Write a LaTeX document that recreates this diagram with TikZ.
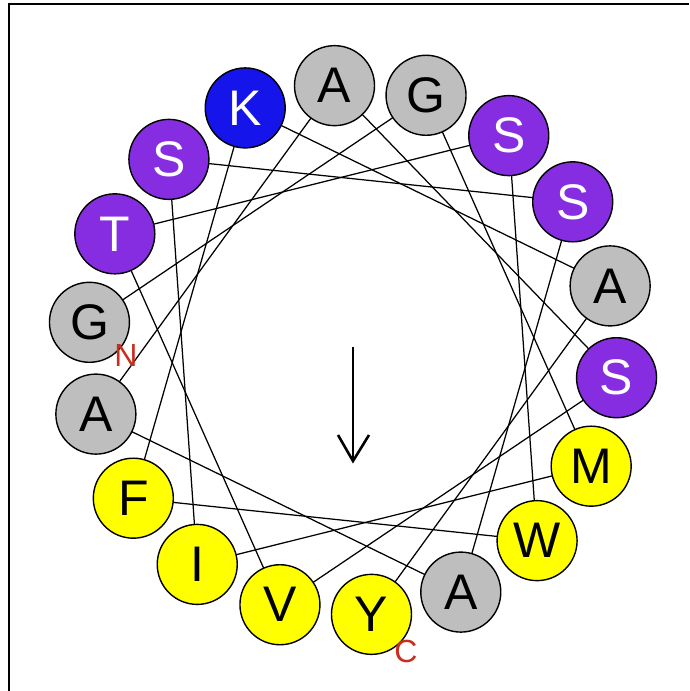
\documentclass[tikz,border=0pt]{standalone}
\usepackage{fontspec}
\setmainfont{Liberation Sans}
\definecolor{resgray}{RGB}{190,190,190}
\definecolor{respurple}{RGB}{135,45,225}
\definecolor{resblue}{RGB}{20,20,235}
\definecolor{resyellow}{RGB}{255,255,0}
\definecolor{termred}{RGB}{200,45,30}
\pgfdeclarelayer{background}
\pgfsetlayers{background,main}
\begin{document}
\begin{tikzpicture}[x=1pt,y=-1pt,
  res/.style={circle, draw=black, line width=1.4pt, minimum size=80pt, inner sep=0pt,
              font=\fontsize{50}{50}\selectfont},
  gr/.style={res, fill=resgray, text=black},
  pu/.style={res, fill=respurple, text=white},
  bl/.style={res, fill=resblue, text=white},
  ye/.style={res, fill=resyellow, text=black},
  link/.style={line width=1.25pt, black},
  term/.style={text=termred, font=\fontsize{32}{32}\selectfont, inner sep=0pt},
  frame/.style={line width=2.4pt, black},
  moment/.style={line width=2.6pt, black}
]
\useasboundingbox (0,0) rectangle (689,691);

% outer frame (top and left edges)
\draw[frame] (9,691) -- (9,4) -- (689,4);

% helical wheel: residue i sits at 174 - 100*i degrees
\foreach \i/\a/\l/\s in {0/174/G/gr, 1/74/G/gr, 2/-26/M/ye, 3/-126/I/ye,
                         4/134/S/pu, 5/34/S/pu, 6/-66/A/gr, 7/-166/A/gr,
                         8/94/A/gr, 9/-6/S/pu, 10/-106/V/ye, 11/154/T/pu,
                         12/54/S/pu, 13/-46/W/ye, 14/-146/F/ye, 15/114/K/bl,
                         16/14/A/gr, 17/-86/Y/ye}
  \node[\s] (r\i) at ({353+265*cos(\a)},{350-265*sin(\a)}) {\l};

% backbone links between consecutive residues
\begin{pgfonlayer}{background}
\foreach \i [evaluate=\i as \j using int(\i+1)] in {0,...,16}
  \draw[link] (r\i.center) -- (r\j.center);
\end{pgfonlayer}

% terminus labels
\node[term] (nterm) at (126,355) {N};
\node[term] (cterm) at (406,651) {C};

% hydrophobic moment arrow
\draw[moment] (353,347) -- (353,460);
\draw[moment, line join=miter] (338,435) -- (353,461) -- (369,435);
\end{tikzpicture}
\end{document}
